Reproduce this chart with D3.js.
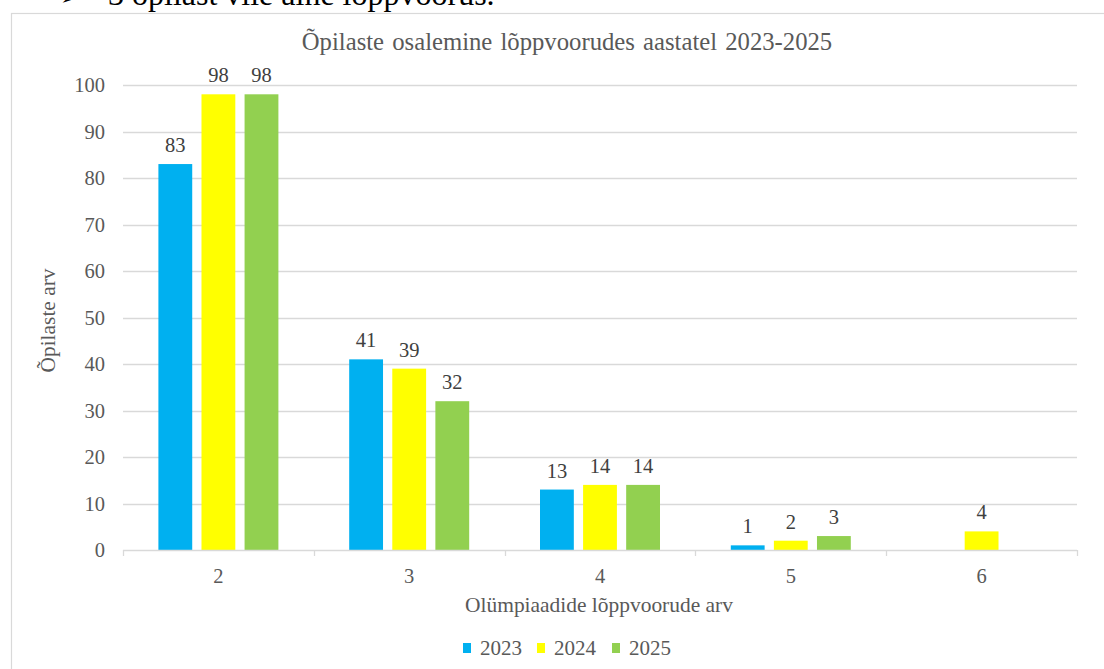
<!DOCTYPE html>
<html>
<head>
<meta charset="utf-8">
<script src="https://cdn.jsdelivr.net/npm/d3@7/dist/d3.min.js"></script>
<style>
  html, body { margin: 0; padding: 0; background: #fff; }
  svg { display: block; }
</style>
</head>
<body>
<svg id="chart" width="1104" height="669"></svg>
<script>
// Number of olympiad final rounds a student took part in
const categories = ["2", "3", "4", "5", "6"];
const years = ["2023", "2024", "2025"];
// Students per category, one array per year (null = no bar)
const values2023 = [83, 41, 13, 1, null];
const values2024 = [98, 39, 14, 2, 4];
const values2025 = [98, 32, 14, 3, null];
const yTicks = [0, 10, 20, 30, 40, 50, 60, 70, 80, 90, 100];
const colors = ["#00b0f0", "#ffff00", "#92d050"];

const series = [values2023, values2024, values2025];
const svg = d3.select("#chart");
const SERIF = "'Liberation Serif'";

// Scale a text's font size so that it spans the given width
function fitSize(sel, target) {
  const size = parseFloat(sel.style("font-size"));
  const w = sel.node().getComputedTextLength();
  if (w > 0) sel.style("font-size", (size * target / w).toFixed(2) + "px");
}

// Preceding document line, cut at the top of the page
svg.append("text")
  .attr("x", 60).attr("y", 5)
  .style("font-size", "24px").attr("fill", "#000")
  .text("➢");
svg.append("text")
  .attr("x", 108).attr("y", 5)
  .style("font-size", "32px").attr("fill", "#000")
  .text("3 õpilast viie aine lõppvoorus.");

// Chart frame
svg.append("rect")
  .attr("x", 11.5).attr("y", 13.5)
  .attr("width", 1200).attr("height", 700)
  .attr("fill", "#fff").attr("stroke", "#d9d9d9").attr("stroke-width", 1.2);

const plot = { left: 123, right: 1077, top: 85, bottom: 550 };

const x = d3.scaleBand().domain(categories).range([plot.left, plot.right]).paddingInner(0).paddingOuter(0);
const inner = d3.scaleBand().domain(years).range([0, 120]).paddingInner(0.215);
const groupOffset = (x.bandwidth() - 120) / 2;
const y = d3.scaleLinear().domain([0, 100]).range([plot.bottom, plot.top]);

// Gridlines
svg.append("g")
  .selectAll("line")
  .data(yTicks.filter(d => d > 0))
  .join("line")
  .attr("x1", plot.left).attr("x2", plot.right)
  .attr("y1", d => Math.round(y(d)) + 0.5).attr("y2", d => Math.round(y(d)) + 0.5)
  .attr("stroke", "#d9d9d9").attr("stroke-width", 1.3);

// Y axis labels
const yAxis = d3.axisLeft(y).tickValues(yTicks).tickSize(0).tickPadding(18);
const gy = svg.append("g").attr("transform", `translate(${plot.left},0)`).call(yAxis);
gy.select(".domain").remove();
gy.selectAll("text")
  .style("font-size", "20.5px").attr("fill", "#595959").attr("dy", "0.34em");

// Bars and value labels
const bars = svg.append("g");
series.forEach((vals, si) => {
  const rows = vals.map((v, i) => ({ cat: categories[i], v })).filter(d => d.v != null);
  bars.selectAll(null)
    .data(rows)
    .join("rect")
    .attr("x", d => x(d.cat) + groupOffset + inner(years[si]))
    .attr("y", d => y(d.v))
    .attr("width", inner.bandwidth())
    .attr("height", d => y(0) - y(d.v))
    .attr("fill", colors[si]);
  bars.selectAll(null)
    .data(rows)
    .join("text")
    .attr("x", d => x(d.cat) + groupOffset + inner(years[si]) + inner.bandwidth() / 2)
    .attr("y", d => y(d.v) - 12)
    .attr("text-anchor", "middle")
    .style("font-size", "20.5px").attr("fill", "#404040")
    .text(d => d.v);
});

// X axis
const xAxis = d3.axisBottom(x).tickSize(0).tickPadding(18);
const gx = svg.append("g").attr("transform", `translate(0,${plot.bottom})`).call(xAxis);
gx.select(".domain").remove();
gx.selectAll("text")
  .style("font-size", "20.5px").attr("fill", "#595959").attr("dy", "0.71em");
svg.append("line")
  .attr("x1", plot.left).attr("x2", plot.right)
  .attr("y1", plot.bottom + 0.5).attr("y2", plot.bottom + 0.5)
  .attr("stroke", "#d9d9d9").attr("stroke-width", 1.3);
// Category separators
const seps = categories.map(c => x(c)).concat([plot.right]);
svg.append("g").selectAll("line").data(seps).join("line")
  .attr("x1", d => Math.round(d) + 0.5).attr("x2", d => Math.round(d) + 0.5)
  .attr("y1", plot.bottom).attr("y2", plot.bottom + 6)
  .attr("stroke", "#d9d9d9").attr("stroke-width", 1.3);

// Title
const title = svg.append("text")
  .attr("x", 567).attr("y", 50)
  .attr("text-anchor", "middle")
  .style("font-size", "24px").attr("fill", "#595959")
  .attr("word-spacing", 2)
  .text("Õpilaste osalemine lõppvoorudes aastatel 2023-2025");

// Axis titles
const yTitle = svg.append("text")
  .attr("transform", `translate(55,${(plot.top + plot.bottom) / 2 + 3}) rotate(-90)`)
  .attr("text-anchor", "middle")
  .style("font-size", "21px").attr("fill", "#595959")
  .text("Õpilaste arv");
const xTitle = svg.append("text")
  .attr("x", 599).attr("y", 612)
  .attr("text-anchor", "middle")
  .style("font-size", "21px").attr("fill", "#595959")
  .text("Olümpiaadide lõppvoorude arv");

// Legend
const legendX = [463, 537, 612];
const legend = svg.append("g");
years.forEach((yr, i) => {
  legend.append("rect")
    .attr("x", legendX[i]).attr("y", 643)
    .attr("width", 8).attr("height", 10)
    .attr("fill", colors[i]);
  legend.append("text")
    .attr("x", legendX[i] + 17).attr("y", 655)
    .style("font-size", "21px").attr("fill", "#595959")
    .text(yr);
});

// Serif face for every label
svg.selectAll("g").attr("font-family", null).attr("font-size", null);
svg.selectAll("text").style("font-family", SERIF);
fitSize(title, 531);
fitSize(xTitle, 268);
fitSize(yTitle, 104);
</script>
</body>
</html>
